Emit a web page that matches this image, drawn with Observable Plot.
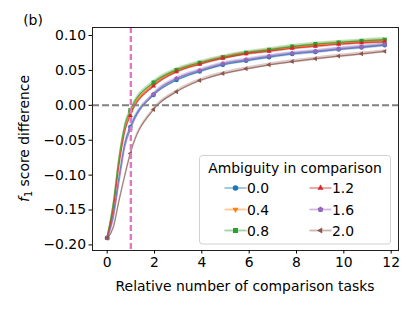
<!DOCTYPE html>
<html>
<head>
<meta charset="utf-8">
<script src="https://cdn.jsdelivr.net/npm/d3@7"></script>
<script src="https://cdn.jsdelivr.net/npm/@observablehq/plot@0.6"></script>
<style>
  html, body { margin: 0; padding: 0; background: #fff; }
  #chart svg { display: block; }
</style>
</head>
<body>
<div id="chart"></div>
<script>
// ---- data ----
const xVals = [0, 0.25, 0.5, 0.75, 0.98, 1.96, 2.93, 3.91, 4.89, 5.87, 6.84, 7.82, 8.80, 9.78, 10.75, 11.73];
const markerX = [0, 0.98, 1.96, 2.93, 3.91, 4.89, 5.87, 6.84, 7.82, 8.80, 9.78, 10.75, 11.73];
const seriesNames = ["0.0", "0.4", "0.8", "1.2", "1.6", "2.0"];
const y00 = [-0.19, -0.158, -0.103, -0.054, -0.031, 0.0148, 0.0362, 0.0484, 0.0580, 0.0638, 0.0690, 0.0735, 0.0765, 0.0800, 0.0830, 0.0862];
const y04 = [-0.19, -0.146, -0.080, -0.032, -0.011, 0.0300, 0.0495, 0.0600, 0.0682, 0.0745, 0.0787, 0.0830, 0.0862, 0.0888, 0.0910, 0.0928];
const y08 = [-0.19, -0.142, -0.075, -0.028, -0.007, 0.0327, 0.0506, 0.0609, 0.0689, 0.0752, 0.0795, 0.0842, 0.0878, 0.0900, 0.0922, 0.0940];
const y12 = [-0.19, -0.150, -0.086, -0.037, -0.0146, 0.0277, 0.0480, 0.0589, 0.0675, 0.0738, 0.0775, 0.0818, 0.0847, 0.0875, 0.0895, 0.0910];
const y16 = [-0.19, -0.163, -0.110, -0.059, -0.035, 0.0160, 0.0384, 0.0499, 0.0595, 0.0652, 0.0703, 0.0746, 0.0775, 0.0809, 0.0838, 0.0871];
const y20 = [-0.19, -0.176, -0.137, -0.100, -0.069, -0.006, 0.0195, 0.0355, 0.0455, 0.0523, 0.0580, 0.0627, 0.0668, 0.0705, 0.0738, 0.0773];
const bandHalf = [0.0025, 0.0025, 0.003, 0.0025, 0.0025, 0.0025];
const xTicks = [0, 2, 4, 6, 8, 10, 12];
const yTicks = [-0.20, -0.15, -0.10, -0.05, 0.00, 0.05, 0.10];
const colors = ["#1f77b4", "#ff7f0e", "#2ca02c", "#d62728", "#9467bd", "#8c564b"];
const refX = 1;
const refY = 0;

// ---- custom marker symbols ----
function rad(size) { return Math.sqrt(size / Math.PI); }
const symCircle = d3.symbolCircle;
const symTriDown = { draw(c, s) { const r = rad(s) * 1.25; c.moveTo(0, r); c.lineTo(r * 0.866, -r * 0.5); c.lineTo(-r * 0.866, -r * 0.5); c.closePath(); } };
const symSquare = { draw(c, s) { const h = rad(s) * 0.9; c.rect(-h, -h, 2 * h, 2 * h); } };
const symTriUp = { draw(c, s) { const r = rad(s) * 1.25; c.moveTo(0, -r); c.lineTo(r * 0.866, r * 0.5); c.lineTo(-r * 0.866, r * 0.5); c.closePath(); } };
const symPent = { draw(c, s) { const r = rad(s) * 1.1; for (let i = 0; i < 5; i++) { const a = -Math.PI / 2 + i * 2 * Math.PI / 5; const px = r * Math.cos(a), py = r * Math.sin(a); if (i === 0) c.moveTo(px, py); else c.lineTo(px, py); } c.closePath(); } };
const symTriLeft = { draw(c, s) { const r = rad(s) * 1.25; c.moveTo(-r, 0); c.lineTo(r * 0.5, -r * 0.866); c.lineTo(r * 0.5, r * 0.866); c.closePath(); } };
const symbols = [symCircle, symTriDown, symSquare, symTriUp, symPent, symTriLeft];

const allY = [y00, y04, y08, y12, y16, y20];
const rows = [];
seriesNames.forEach((name, si) => {
  xVals.forEach((x, i) => {
    rows.push({ s: name, si, x, y: allY[si][i], lo: allY[si][i] - bandHalf[si], hi: allY[si][i] + bandHalf[si], m: markerX.includes(x) });
  });
});

const marks = [];
seriesNames.forEach((name, si) => {
  const d = rows.filter(r => r.si === si);
  marks.push(Plot.areaY(d, { x: "x", y1: "lo", y2: "hi", fill: colors[si], fillOpacity: 0.3, curve: "monotone-x" }));
});
seriesNames.forEach((name, si) => {
  const d = rows.filter(r => r.si === si);
  marks.push(Plot.line(d, { x: "x", y: "y", stroke: colors[si], strokeOpacity: 0.75, strokeWidth: 1.2, curve: "monotone-x" }));
  marks.push(Plot.dot(d.filter(r => r.m), { x: "x", y: "y", fill: colors[si], r: 2.3, symbol: symbols[si] }));
});
marks.push(Plot.ruleY([refY], { stroke: "#808080", strokeWidth: 2, strokeDasharray: "7,3" }));
marks.push(Plot.ruleX([refX], { stroke: "#e377c2", strokeWidth: 2.4, strokeDasharray: "6,3" }));
marks.push(Plot.frame({ stroke: "#222", strokeWidth: 1 }));
marks.push(Plot.axisX({ ticks: xTicks, tickSize: 3.5, tickPadding: 3, fontSize: 13.9, label: null, tickFormat: d3.format("d") }));
marks.push(Plot.axisY({ ticks: yTicks, tickSize: 3.5, tickPadding: 3, fontSize: 13.9, label: null, tickFormat: d3.format(".2f") }));

const W = 415, H = 312;
const mL = 92, mR = 17, mT = 27, mB = 62;
const chart = Plot.plot({
  width: W, height: H,
  marginLeft: mL, marginRight: mR, marginTop: mT, marginBottom: mB,
  style: { fontFamily: "DejaVu Sans", fontSize: "13.9px", color: "#000", background: "#fff" },
  x: { domain: [-0.62, 12.31] },
  y: { domain: [-0.208, 0.1115] },
  marks
});
document.getElementById("chart").appendChild(chart);

// ---- texts & legend ----
const svg = d3.select(chart);
const ff = "DejaVu Sans";
svg.append("text").attr("x", 33).attr("y", 25).attr("font-family", ff).attr("font-size", 13.9).attr("fill", "#000").text("(b)");
svg.append("text").attr("x", (mL + W - mR) / 2).attr("y", 291).attr("text-anchor", "middle").attr("font-family", ff).attr("font-size", 13.9).attr("fill", "#000").text("Relative number of comparison tasks");
const yl = svg.append("text").attr("transform", `translate(29,${(mT + H - mB) / 2}) rotate(-90)`).attr("text-anchor", "middle").attr("font-family", ff).attr("font-size", 13.9).attr("fill", "#000");
yl.append("tspan").attr("font-style", "italic").text("f");
yl.append("tspan").attr("font-size", 9.7).attr("dy", 3).text("1");
yl.append("tspan").attr("dy", -3).text(" score difference");

const lg = svg.append("g");
lg.append("rect").attr("x", 199.5).attr("y", 155.5).attr("width", 191).attr("height", 88.5).attr("rx", 3)
  .attr("fill", "#fff").attr("fill-opacity", 0.85).attr("stroke", "#d0d0d0").attr("stroke-width", 1);
lg.append("text").attr("x", 295).attr("y", 172.5).attr("text-anchor", "middle").attr("font-family", ff).attr("font-size", 13.9).attr("fill", "#000").text("Ambiguity in comparison");
const colX = [[224.5, 246.5, 258], [309.5, 331.5, 343]];
const rowY = [188, 209.5, 230.5];
seriesNames.forEach((name, si) => {
  const c = Math.floor(si / 3), r = si % 3;
  const [x1, x2, tx] = colX[c];
  const cy = rowY[r];
  lg.append("line").attr("x1", x1).attr("x2", x2).attr("y1", cy).attr("y2", cy).attr("stroke", colors[si]).attr("stroke-opacity", 0.45).attr("stroke-width", 1.8);
  lg.append("path").attr("d", d3.symbol().type(symbols[si]).size(Math.PI * 2.8 * 2.8)()).attr("transform", `translate(${(x1 + x2) / 2},${cy})`).attr("fill", colors[si]);
  lg.append("text").attr("x", tx).attr("y", cy + 5).attr("font-family", ff).attr("font-size", 13.9).attr("fill", "#000").text(name);
});
</script>
</body>
</html>
